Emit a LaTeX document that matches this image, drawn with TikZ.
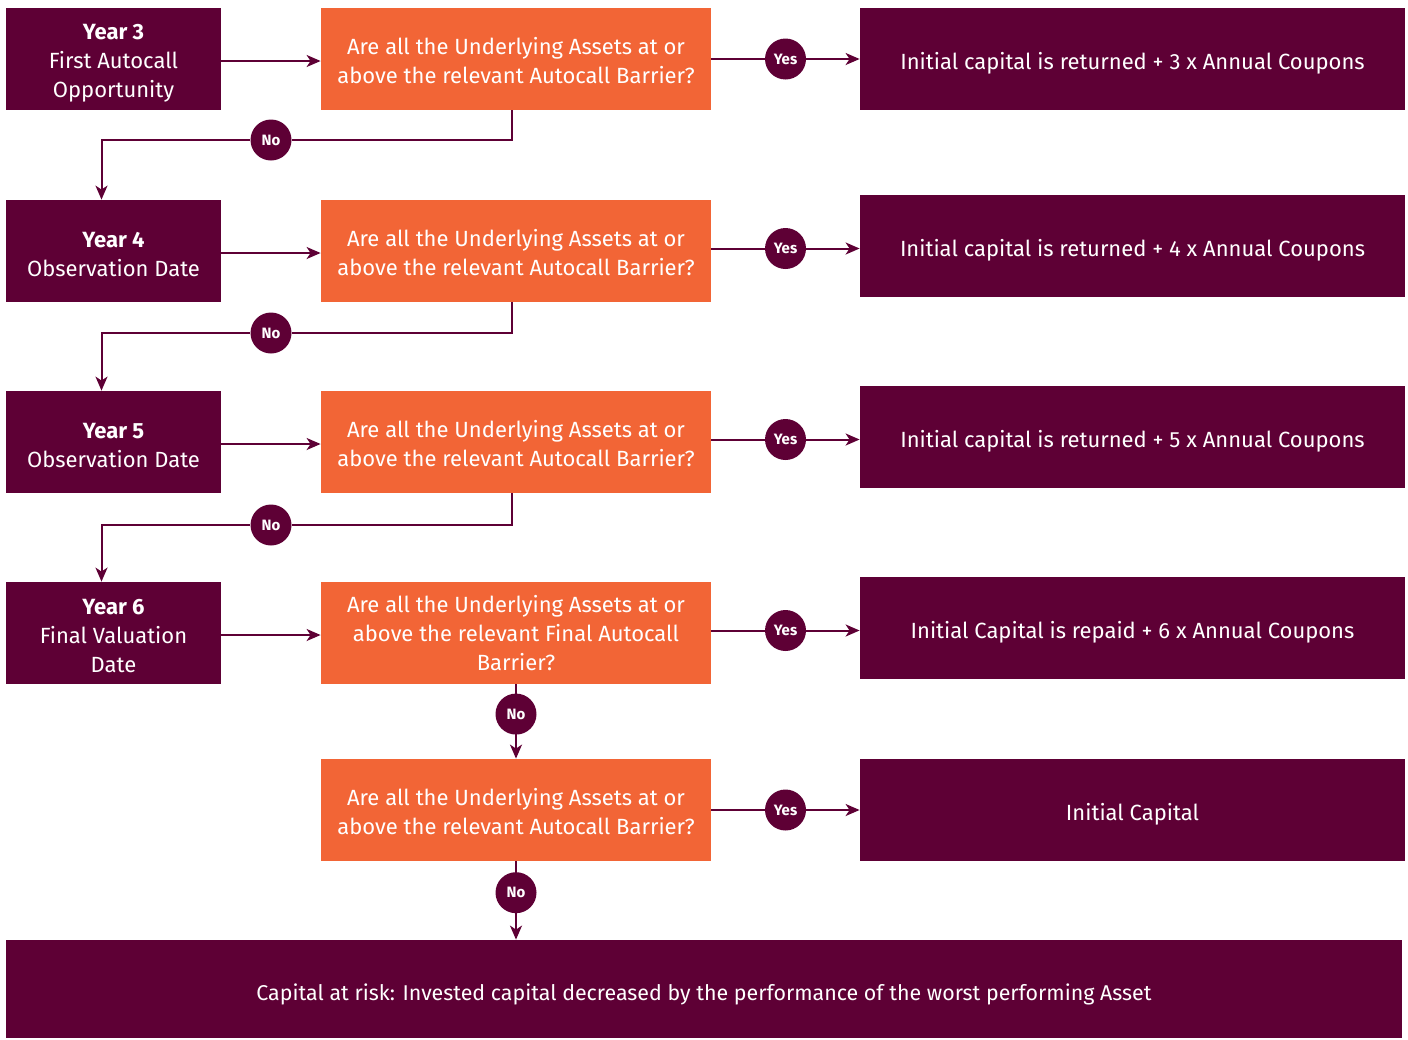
\documentclass[tikz,border=0pt]{standalone}
\usepackage{fontspec}
\setmainfont{Fira Sans}
\usepackage{tikz}
\usetikzlibrary{arrows,arrows.meta,positioning,calc}
\definecolor{wine}{HTML}{5E0035}
\definecolor{tangerine}{HTML}{F26536}
\newcommand{\topgap}[1]{\rule{0pt}{#1}}

\begin{document}
\begin{tikzpicture}[x=0.5pt, y=-0.5pt, >={Stealth[length=7pt,width=6pt,inset=2pt]},
    yearbox/.style={fill=wine, text=white, minimum width=107.5pt, minimum height=51pt,
      align=center, font=\fontsize{11}{14.5}\selectfont, inner sep=0pt},
    askbox/.style={fill=tangerine, text=white, minimum width=195pt, minimum height=51pt,
      align=center, font=\fontsize{11}{14.5}\selectfont, inner sep=0pt},
    payoutbox/.style={fill=wine, text=white, minimum width=272.5pt, minimum height=51pt,
      align=center, font=\fontsize{11}{14.5}\selectfont, inner sep=0pt,
      text height=12.6pt, text depth=2.4pt},
    answer/.style={circle, fill=wine, text=white, minimum size=20.5pt, inner sep=0pt,
      font=\fontsize{7.5}{9}\selectfont\bfseries},
    flow/.style={draw=wine, line width=1pt, ->}]
  \useasboundingbox (0,0) rectangle (1408,1039);

  % observation dates
  \node[yearbox] (y3) at (113.5,59) {\topgap{12pt}\textbf{Year 3}\\First Autocall\\Opportunity};
  \node[yearbox] (y4) at (113.5,251) {\topgap{11pt}\textbf{Year 4}\\Observation Date};
  \node[yearbox] (y5) at (113.5,442) {\topgap{11pt}\textbf{Year 5}\\Observation Date};
  \node[yearbox] (y6) at (113.5,633) {\topgap{11pt}\textbf{Year 6}\\Final Valuation\\Date};

  % barrier questions
  \node[askbox] (q1) at (516,59) {\topgap{10pt}Are all the Underlying Assets at or\\above the relevant Autocall Barrier?};
  \node[askbox] (q2) at (516,251) {\topgap{10pt}Are all the Underlying Assets at or\\above the relevant Autocall Barrier?};
  \node[askbox] (q3) at (516,442) {\topgap{10pt}Are all the Underlying Assets at or\\above the relevant Autocall Barrier?};
  \node[askbox] (q4) at (516,633) {Are all the Underlying Assets at or\\above the relevant Final Autocall\\Barrier?};
  \node[askbox] (q5) at (516,810) {\topgap{10pt}Are all the Underlying Assets at or\\above the relevant Autocall Barrier?};

  % payouts
  \node[payoutbox] (r1) at (1132.5,59) {Initial capital is returned + 3 x Annual Coupons};
  \node[payoutbox] (r2) at (1132.5,246) {Initial capital is returned + 4 x Annual Coupons};
  \node[payoutbox] (r3) at (1132.5,437) {Initial capital is returned + 5 x Annual Coupons};
  \node[payoutbox] (r4) at (1132.5,628) {Initial Capital is repaid + 6 x Annual Coupons};
  \node[payoutbox] (r5) at (1132.5,810) {Initial Capital};
  \node[fill=wine, text=white, minimum width=698pt, minimum height=49pt, inner sep=0pt,
    font=\fontsize{10.7}{13}\selectfont, text height=13.6pt, text depth=2.4pt] (risk) at (704,989)
    {Capital at risk: Invested capital decreased by the performance of the worst performing Asset};

  % dates -> questions
  \foreach \n in {3,4,5,6} {
    \pgfmathtruncatemacro{\k}{\n-2}
    \draw[flow] ([yshift=-1pt]y\n.east) -- ([yshift=-1pt]y\n.east -| q\k.west);
  }

  % yes branches
  \foreach \k in {1,...,5} {
    \coordinate (mid\k) at ($(q\k.center)!0.5!(r\k.center)$);
    \draw[flow] (mid\k -| q\k.east) -- (mid\k -| r\k.west) node[answer, midway] (yes\k) {Yes};
  }

  % no branches
  \node[answer] (no1) at (271,140) {No};
  \node[answer] (no2) at (271,333) {No};
  \node[answer] (no3) at (271,525) {No};
  \draw[draw=wine, line width=1pt] ([xshift=-2pt]q1.south) |- (no1);
  \draw[flow] (no1) -| ([xshift=-6pt]y4.north);
  \draw[draw=wine, line width=1pt] ([xshift=-2pt]q2.south) |- (no2);
  \draw[flow] (no2) -| ([xshift=-6pt]y5.north);
  \draw[draw=wine, line width=1pt] ([xshift=-2pt]q3.south) |- (no3);
  \draw[flow] (no3) -| ([xshift=-6pt]y6.north);
  \draw[flow] (q4.south) -- (q5.north) node[answer, pos=0.4] (no4) {No};
  \draw[flow] (q5.south) -- (q5.south |- risk.north) node[answer, pos=0.4] (no5) {No};
\end{tikzpicture}
\end{document}
